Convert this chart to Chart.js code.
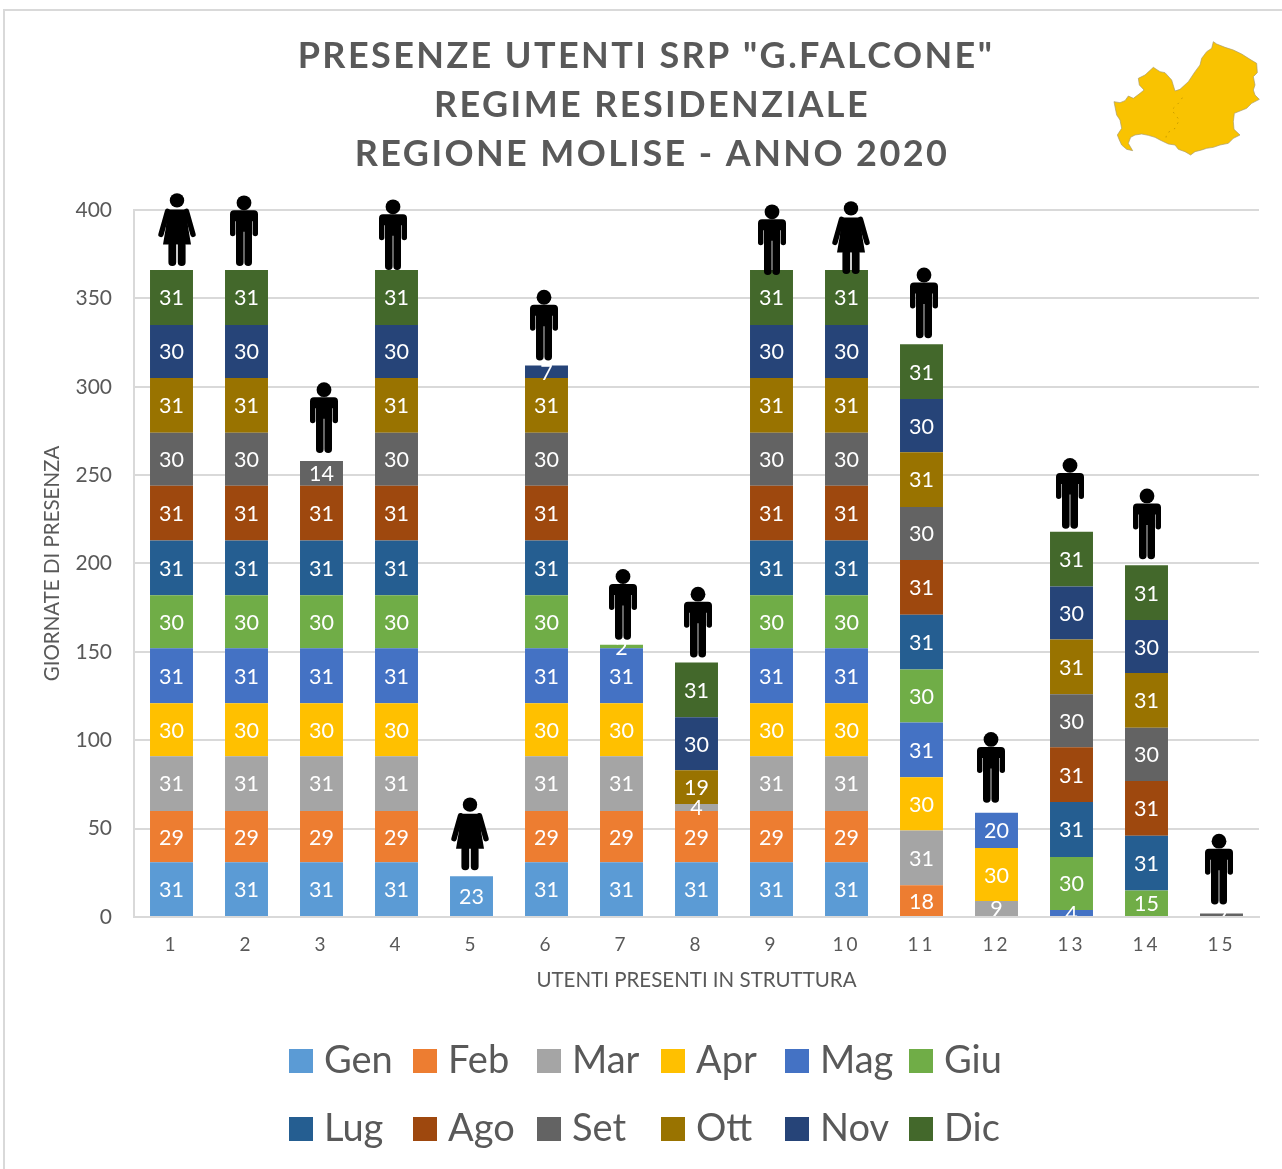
<!DOCTYPE html>
<html lang="it">
<head>
<meta charset="utf-8">
<title>Presenze utenti SRP G.Falcone</title>
<style>html,body{margin:0;padding:0;background:#fff}canvas{display:block}</style>
<script src="https://cdn.jsdelivr.net/npm/chart.js@4"></script>
</head>
<body>
<canvas id="c" width="1282" height="1169"></canvas>
<script>
const users = ['1','2','3','4','5','6','7','8','9','10','11','12','13','14','15'];
const months = ['Gen','Feb','Mar','Apr','Mag','Giu','Lug','Ago','Set','Ott','Nov','Dic'];
const titleLines = ['PRESENZE UTENTI SRP "G.FALCONE"','REGIME RESIDENZIALE','REGIONE MOLISE - ANNO 2020'];
const gen = [31,31,31,31,23,31,31,31,31,31,0,0,0,0,0];
const feb = [29,29,29,29,0,29,29,29,29,29,18,0,0,0,0];
const mar = [31,31,31,31,0,31,31,4,31,31,31,9,0,0,0];
const apr = [30,30,30,30,0,30,30,0,30,30,30,30,0,0,0];
const mag = [31,31,31,31,0,31,31,0,31,31,31,20,4,0,0];
const giu = [30,30,30,30,0,30,2,0,30,30,30,0,30,15,0];
const lug = [31,31,31,31,0,31,0,0,31,31,31,0,31,31,0];
const ago = [31,31,31,31,0,31,0,0,31,31,31,0,31,31,0];
const set = [30,30,14,30,0,30,0,0,30,30,30,0,30,30,2];
const ott = [31,31,0,31,0,31,0,19,31,31,31,0,31,31,0];
const nov = [30,30,0,30,0,7,0,30,30,30,30,0,30,30,0];
const dic = [31,31,0,31,0,0,0,31,31,31,31,0,31,31,0];
const monthValues = [gen,feb,mar,apr,mag,giu,lug,ago,set,ott,nov,dic];
const monthColors = ['#5B9BD5','#ED7D31','#A5A5A5','#FFC000','#4472C4','#70AD47','#255E91','#9E480E','#636363','#997300','#264478','#43682B'];
const userGender = ['F','M','M','M','F','M','M','M','M','F','M','M','M','M','M'];

const FONT = 'Lato, Carlito, sans-serif';
const INK = '#595959';
const RULE = '#D9D9D9';

// Pictogram nudges: the figures sit slightly off-centre and off the top of each column.
const iconDx = [5.5,-2.5,2.5,-3.5,-1.5,-2.5,1.5,1.5,0.5,4.5,2.5,-5.5,-1.5,0.5,-2.5];
const iconDy = [-4,-4,-8,0,-6,-5,-5,-5,5,4,-6,-10,-3,-6,-9];

function drawMan(ctx, x, feet) {
  ctx.save(); ctx.translate(x, feet - 70.3); ctx.fillStyle = '#000';
  ctx.beginPath(); ctx.arc(0, 7, 7.4, 0, Math.PI * 2); ctx.fill();
  ctx.beginPath();
  ctx.roundRect(-14, 14.5, 28, 11, [4, 4, 0, 0]);
  ctx.roundRect(-14, 20, 5.4, 20.5, 2.7);
  ctx.roundRect(8.6, 20, 5.4, 20.5, 2.7);
  ctx.rect(-8, 20, 16, 16);
  ctx.roundRect(-8, 30, 7.6, 40.3, 3.8);
  ctx.roundRect(0.4, 30, 7.6, 40.3, 3.8);
  ctx.fill(); ctx.restore();
}
function drawWoman(ctx, x, feet) {
  ctx.save(); ctx.translate(x, feet - 72.7); ctx.fillStyle = '#000'; ctx.strokeStyle = '#000';
  ctx.beginPath(); ctx.arc(0, 7, 7.2, 0, Math.PI * 2); ctx.fill();
  ctx.beginPath();
  ctx.moveTo(-10, 16); ctx.lineTo(10, 16); ctx.lineTo(11, 33); ctx.lineTo(14, 51); ctx.lineTo(-14, 51); ctx.lineTo(-11, 33);
  ctx.closePath(); ctx.fill();
  ctx.lineWidth = 5.4; ctx.lineCap = 'round';
  ctx.beginPath(); ctx.moveTo(-9.5, 18); ctx.lineTo(-16, 41); ctx.moveTo(9.5, 18); ctx.lineTo(16, 41); ctx.stroke();
  ctx.beginPath();
  ctx.roundRect(-8.6, 48, 7.8, 24.7, 3.8);
  ctx.roundRect(0.8, 48, 7.8, 24.7, 3.8);
  ctx.fill(); ctx.restore();
}

// Region outline decoration, in px relative to its own box.
const regionOutline = [[340,35],[350,42],[375,52],[400,60],[425,72],[450,88],[470,100],[472,128],[460,140],[465,165],[460,180],[465,195],[478,208],[455,220],[440,235],[420,243],[403,250],[400,275],[402,298],[420,315],[400,325],[385,340],[360,345],[340,352],[320,355],[305,360],[285,365],[272,375],[255,365],[235,358],[225,345],[205,342],[180,330],[165,322],[145,316],[125,312],[105,315],[92,322],[85,340],[98,362],[80,358],[65,345],[58,330],[52,315],[65,295],[60,270],[50,255],[42,215],[60,218],[75,212],[85,198],[100,205],[120,190],[132,180],[118,165],[115,145],[135,135],[160,112],[180,125],[195,128],[215,150],[225,183],[240,178],[265,155],[285,125],[300,105],[305,85],[320,65],[335,55]];
const regionInner = [[247,203],[240,215],[215,240],[238,270],[225,295],[200,310],[197,330]];

const decorPlugin = {
  id: 'decor',
  start(chart) {
    const ctx = chart.ctx, lg = chart.legend, FIXED = 51, SHIFT = 8;
    const nativeFill = CanvasRenderingContext2D.prototype.fillText;
    const wrap = fn => function (...a) {
      ctx.measureText = () => ({ width: FIXED });
      ctx.fillText = function (t, x, y, m) { nativeFill.call(ctx, t, x - SHIFT, y, m); };
      const r = fn.apply(this, a);
      delete ctx.measureText; delete ctx.fillText;
      return r;
    };
    const fit = wrap(lg.fit), draw = wrap(lg.draw);
    lg.fit = function () { this.maxWidth = 800; fit.call(this); };
    lg.draw = function () {
      const l = this.left, r = this.right;
      this.left = 242; this.right = 1050;
      draw.call(this);
      this.left = l; this.right = r;
    };
    const tb = chart.titleBlock, td = tb.draw;
    tb.draw = function (...a) {
      ctx.letterSpacing = '2.4px';
      // The second and third title lines sit a little right of the first in the original.
      ctx.fillText = function (t, x, y, m) { nativeFill.call(ctx, t, t === titleLines[0] ? x + 1 : x + 7, y, m); };
      td.apply(this, a);
      delete ctx.fillText;
      ctx.letterSpacing = '0px';
    };
  },
  beforeDraw(chart) {
    const ctx = chart.ctx, sx = chart.scales.x;
    if (!sx.__spaced) {
      const dl = sx.drawLabels;
      sx.drawLabels = function (...a) { ctx.letterSpacing = '3px'; dl.apply(this, a); ctx.letterSpacing = '0px'; };
      sx.__spaced = true;
    }
    ctx.save();
    ctx.strokeStyle = RULE; ctx.lineWidth = 2;
    ctx.beginPath(); ctx.moveTo(4, 1169); ctx.lineTo(4, 10); ctx.lineTo(1282, 10); ctx.stroke();
    ctx.restore();
  },
  afterDatasetsDraw(chart) {
    const ctx = chart.ctx, a = chart.chartArea, y = chart.scales.y;
    ctx.save();
    ctx.beginPath(); ctx.rect(a.left, a.top - 5, a.right - a.left, a.bottom - a.top + 4); ctx.clip();
    ctx.font = '400 21.5px ' + FONT; ctx.fillStyle = '#fff'; ctx.textAlign = 'center'; ctx.textBaseline = 'middle';
    chart.data.datasets.forEach((ds, d) => {
      chart.getDatasetMeta(d).data.forEach((bar, i) => {
        const v = ds.data[i];
        if (v) ctx.fillText(String(v), bar.x, (bar.y + bar.base) / 2 + 1);
      });
    });
    ctx.restore();
    users.forEach((u, i) => {
      const total = monthValues.reduce((s, m) => s + m[i], 0);
      const bar = chart.getDatasetMeta(0).data[i];
      const feet = y.getPixelForValue(total) + iconDy[i];
      (userGender[i] === 'F' ? drawWoman : drawMan)(ctx, bar.x + iconDx[i], feet);
    });
  },
  afterDraw(chart) {
    const ctx = chart.ctx;
    ctx.save();
    ctx.translate(1100, 30); ctx.scale(1 / 3, 1 / 3);
    ctx.fillStyle = '#F9C301'; ctx.strokeStyle = '#A89A6A'; ctx.lineWidth = 2;
    ctx.beginPath();
    regionOutline.forEach((p, i) => i ? ctx.lineTo(p[0], p[1]) : ctx.moveTo(p[0], p[1]));
    ctx.closePath(); ctx.fill(); ctx.stroke();
    ctx.strokeStyle = '#B08A00'; ctx.lineWidth = 2; ctx.setLineDash([5, 14]);
    ctx.beginPath();
    regionInner.forEach((p, i) => i ? ctx.lineTo(p[0], p[1]) : ctx.moveTo(p[0], p[1]));
    ctx.stroke();
    ctx.restore();
  }
};

new Chart(document.getElementById('c'), {
  type: 'bar',
  data: {
    labels: users,
    datasets: months.map((m, i) => ({ label: m, data: monthValues[i], backgroundColor: monthColors[i], stack: 's', categoryPercentage: 1, barPercentage: 0.573 }))
  },
  plugins: [decorPlugin],
  options: {
    responsive: false,
    animation: false,
    layout: { padding: { left: 31, right: 23, top: 32, bottom: 11 } },
    plugins: {
      tooltip: { enabled: false },
      title: {
        display: true,
        text: titleLines,
        color: INK,
        font: { family: FONT, size: 36, weight: 'bold', lineHeight: 1.361 },
        padding: { top: 0, bottom: 31 }
      },
      legend: {
        position: 'bottom',
        labels: { color: INK, boxWidth: 24, boxHeight: 24, padding: 30, font: { family: FONT, size: 38 } }
      }
    },
    scales: {
      x: {
        stacked: true,
        grid: { display: false },
        border: { display: true, color: RULE, width: 2 },
        ticks: { color: INK, font: { family: FONT, size: 19 }, padding: 8, maxRotation: 0, autoSkip: false },
        title: { display: true, text: 'UTENTI PRESENTI IN STRUTTURA', color: INK, font: { family: FONT, size: 20.5 }, padding: { top: 8, bottom: 19 } },
        afterFit(s) { s.height = 95; }
      },
      y: {
        stacked: true,
        min: 0, max: 400,
        grid: { color: RULE, lineWidth: 2, drawTicks: false },
        border: { display: true, color: RULE, width: 2 },
        ticks: { stepSize: 50, color: INK, font: { family: FONT, size: 21 }, padding: 22 },
        title: { display: true, text: 'GIORNATE DI PRESENZA', color: INK, font: { family: FONT, size: 20.5 }, padding: { top: 9, bottom: 0 } },
        afterFit(s) { s.width = 103; }
      }
    }
  }
});
</script>
</body>
</html>
